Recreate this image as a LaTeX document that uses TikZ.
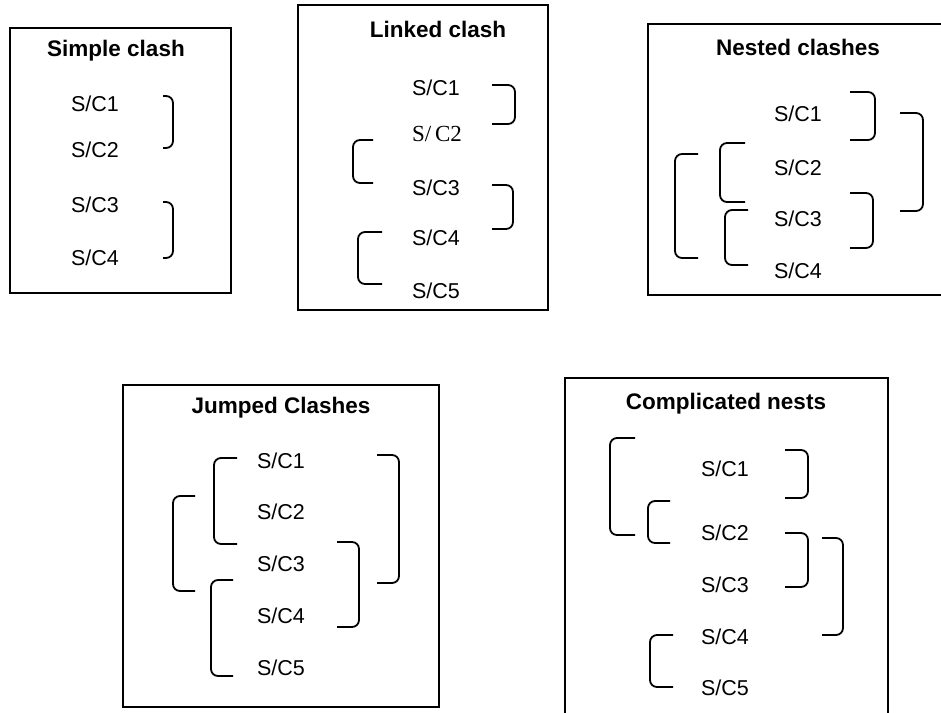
\documentclass[tikz,border=0pt]{standalone}
\usepackage{fontspec}
\setmainfont{Liberation Sans}
\newfontfamily\serifalt{Liberation Serif}
\begin{document}
\begin{tikzpicture}[x=1pt,y=-1pt,
  panel/.style={draw=black,line width=2pt},
  brk/.style={draw=black,line width=1.8pt,rounded corners=7pt},
  ttl/.style={font=\fontsize{22.5}{24}\selectfont\bfseries,anchor=center,inner sep=0pt},
  sc/.style={font=\fontsize{21.5}{24}\selectfont,anchor=base,inner sep=0pt}]
\useasboundingbox (0,0) rectangle (941,712);
\clip (0,0) rectangle (941,712);
\fill[white] (0,0) rectangle (941,712);
% bracket: open end x, spine x, top y, bottom y
\newcommand\clashbr[4]{\draw[brk] (#1,#3) -- (#2,#3) -- (#2,#4) -- (#1,#4);}

% ---- Simple clash
\draw[panel] (10,28) rectangle (231,293);
\node[ttl] (t1) at (116,51) {Simple clash};
\node[sc] (a1) at (95,111.7) {S/C1};
\node[sc] (a2) at (95,157.7) {S/C2};
\node[sc] (a3) at (95,212.7) {S/C3};
\node[sc] (a4) at (95,265.7) {S/C4};
\clashbr{163}{173}{96}{148}
\clashbr{163}{173}{202}{258}

% ---- Linked clash
\draw[panel] (298,5) rectangle (548,310);
\node[ttl] (t2) at (438,29) {Linked clash};
\node[sc] (b1) at (436,95.7) {S/C1};
\node[sc,font=\serifalt\fontsize{23}{24}\selectfont] (b2) at (437,141.7) {S/\,C2};
\node[sc] (b3) at (436,195.7) {S/C3};
\node[sc] (b4) at (436,245.7) {S/C4};
\node[sc] (b5) at (436,298.7) {S/C5};
\clashbr{492}{515}{85}{124}
\clashbr{373}{353}{140}{183}
\clashbr{492}{513}{185}{229}
\clashbr{382}{358}{232}{284}

% ---- Nested clashes
\draw[panel] (648,24) rectangle (960,295);
\node[ttl] (t3) at (798,47) {Nested clashes};
\node[sc] (c1) at (798,121.7) {S/C1};
\node[sc] (c2) at (798,175.7) {S/C2};
\node[sc] (c3) at (798,226.7) {S/C3};
\node[sc] (c4) at (798,278.7) {S/C4};
\clashbr{850}{875}{92}{140}
\clashbr{900}{923}{113}{211}
\clashbr{745}{720}{143}{202}
\clashbr{850}{873}{193}{248}
\clashbr{698}{675}{154}{258}
\clashbr{748}{725}{210}{265}

% ---- Jumped Clashes
\draw[panel] (123,385) rectangle (439,707);
\node[ttl] (t4) at (281,408) {Jumped Clashes};
\node[sc] (d1) at (281,468.7) {S/C1};
\node[sc] (d2) at (281,519.7) {S/C2};
\node[sc] (d3) at (281,571.7) {S/C3};
\node[sc] (d4) at (281,623.7) {S/C4};
\node[sc] (d5) at (281,675.7) {S/C5};
\clashbr{237}{214}{458}{544}
\clashbr{377}{399}{455}{583}
\clashbr{195}{173}{496}{591}
\clashbr{337}{359}{542}{627}
\clashbr{233}{211}{580}{676}

% ---- Complicated nests
\draw[panel] (565,378) rectangle (888,730);
\node[ttl] (t5) at (726,404) {Complicated nests};
\node[sc] (e1) at (725,476.7) {S/C1};
\node[sc] (e2) at (725,540.7) {S/C2};
\node[sc] (e3) at (725,592.7) {S/C3};
\node[sc] (e4) at (725,644.7) {S/C4};
\node[sc] (e5) at (725,695.7) {S/C5};
\clashbr{635}{610}{438}{535}
\clashbr{785}{808}{450}{498}
\clashbr{670}{648}{501}{543}
\clashbr{785}{808}{533}{587}
\clashbr{822}{843}{538}{635}
\clashbr{673}{650}{635}{687}
\end{tikzpicture}
\end{document}
